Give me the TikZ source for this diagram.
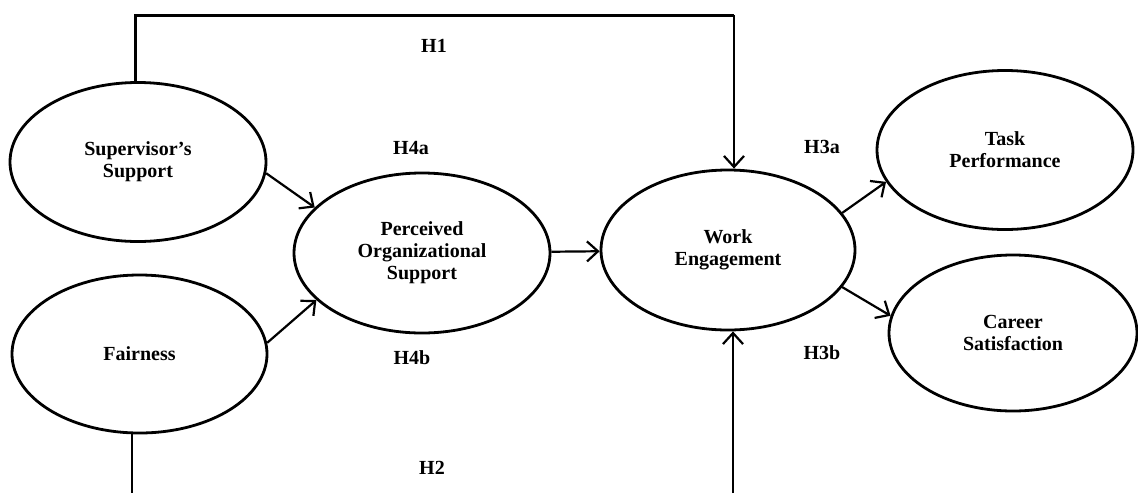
\documentclass[tikz,border=0pt]{standalone}
\usepackage{fontspec}
\setmainfont{Liberation Serif}
\usetikzlibrary{shapes.geometric,arrows.meta}
\begin{document}
\begin{tikzpicture}[x=1pt,y=-1pt,
  construct/.style={draw,ellipse,line width=2.8pt,inner sep=0pt,align=center,
    font=\fontsize{20}{22}\selectfont\bfseries},
  hyp/.style={font=\fontsize{20}{22}\selectfont\bfseries,inner sep=0pt},
  link/.style={line width=2.2pt},
  arr/.style={line width=2.2pt,-{Straight Barb[length=11pt,width=20pt,line width=2.2pt]}}]
\useasboundingbox (0,0) rectangle (1138,493);
\node[construct,minimum width=256pt,minimum height=159pt] (sup) at (138,162) {Supervisor's\\Support};
\node[construct,minimum width=255pt,minimum height=158pt] (fair) at (139.5,354) {Fairness};
\node[construct,minimum width=256pt,minimum height=160pt] (pos) at (422,253) {Perceived\\Organizational\\Support};
\node[construct,minimum width=254pt,minimum height=160pt] (we) at (728,250) {Work\\Engagement};
\node[construct,minimum width=256pt,minimum height=159pt] (tp) at (1005,150) {Task\\Performance};
\node[construct,minimum width=248pt,minimum height=156pt] (cs) at (1013,333) {Career\\Satisfaction};
\node[hyp] (h1) at (434,46) {H1};
\node[hyp] (h4a) at (411,148) {H4a};
\node[hyp] (h4b) at (412,358) {H4b};
\node[hyp] (h2) at (432,468) {H2};
\node[hyp] (h3a) at (822,147) {H3a};
\node[hyp] (h3b) at (822,353) {H3b};
\coordinate (t1) at (135,15);
\coordinate (t2) at (734,15);
\coordinate (b1) at (132,493);
\coordinate (b2) at (733,493);
\draw[link,line width=3pt] (t1 |- sup.north) -- (t1) -- (t2);
\draw[arr] (t2) -- (t2 |- we.north);
\draw[link] (fair.south -| b1) -- (b1);
\draw[arr] (b2) -- (b2 |- we.south);
\draw[arr] (sup.-5) -- (pos.157.5);
\draw[arr] (fair.5) -- (pos.204.7);
\draw[arr] (pos) -- (we);
\draw[arr] (we.18.3) -- (tp.195.7);
\draw[arr] (we.-18.3) -- (cs.172);
\end{tikzpicture}
\end{document}
